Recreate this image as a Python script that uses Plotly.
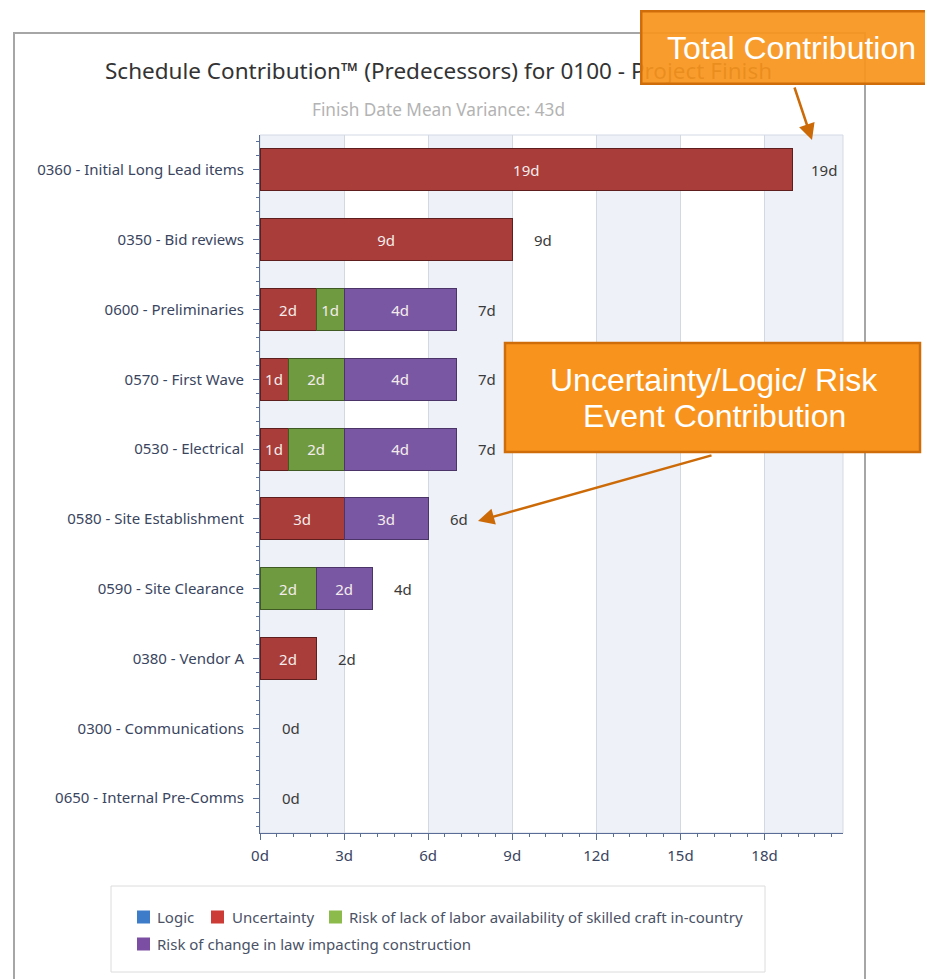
import plotly.graph_objects as go

# ---------------- data ----------------
categories = [
    "0360 - Initial Long Lead items",
    "0350 - Bid reviews",
    "0600 - Preliminaries",
    "0570 - First Wave",
    "0530 - Electrical",
    "0580 - Site Establishment",
    "0590 - Site Clearance",
    "0380 - Vendor A",
    "0300 - Communications",
    "0650 - Internal Pre-Comms",
]
logic = [0, 0, 0, 0, 0, 0, 0, 0, 0, 0]
uncertainty = [19, 9, 2, 1, 1, 3, 0, 2, 0, 0]
labor_risk = [0, 0, 1, 2, 2, 0, 2, 0, 0, 0]
law_risk = [0, 0, 4, 4, 4, 3, 2, 0, 0, 0]
series_names = [
    "Logic",
    "Uncertainty",
    "Risk of lack of labor availability of skilled craft in-country",
    "Risk of change in law impacting construction",
]
x_tick_values = [0, 3, 6, 9, 12, 15, 18]
x_tick_labels = ["0d", "3d", "6d", "9d", "12d", "15d", "18d"]
title_text = "Schedule Contribution™ (Predecessors) for 0100 - Project Finish"
subtitle_text = "Finish Date Mean Variance: 43d"

# ---------------- styling ----------------
PAGE_W, PAGE_H = 933, 979
OFF = 8  # default page body margin
W, H = PAGE_W - OFF, PAGE_H - OFF
L, R, T, B = 260, 843, 135, 833  # plot area in page pixels
X_MAX = 20.8
FONT = "Noto Sans"
FS = 15
bar_colors = ["#3d7cc9", "#a83d39", "#6f9a40", "#7a57a3"]
legend_colors = ["#3d7cc9", "#cc3b35", "#8cbb4c", "#7b4ea3"]
edge_colors = ["#2a4f80", "#5e1e1e", "#3f5a22", "#4a3468"]


def px(xp):
    return (xp - L) / (R - L)


def py(yp):
    return (B - yp) / (B - T)


ypos = list(range(len(categories)))
series = [logic, uncertainty, labor_risk, law_risk]
totals = [sum(v) for v in zip(*series)]

fig = go.Figure()
for name, vals, col, edge in zip(series_names, series, bar_colors, edge_colors):
    fig.add_trace(go.Bar(
        y=ypos, x=[v if v > 0 else None for v in vals], name=name, orientation="h",
        width=0.6,
        marker=dict(color=col, line=dict(color=edge, width=1)),
        text=[f"{v}d" if v > 0 else "" for v in vals],
        textposition="inside", insidetextanchor="middle",
        textangle=0, constraintext="none",
        textfont=dict(family=FONT, size=FS, color="#f4ecec"),
        showlegend=False, hoverinfo="x+name",
    ))

shapes = []
# alternating vertical bands
for x0 in range(0, 21, 6):
    shapes.append(dict(type="rect", xref="x", yref="paper", x0=x0, x1=min(x0 + 3, X_MAX),
                       y0=0, y1=1, fillcolor="#eef1f7", line=dict(width=0), layer="below"))
# plot frame (top/right faint)
shapes.append(dict(type="rect", xref="paper", yref="paper", x0=0, x1=1, y0=0, y1=1,
                   line=dict(color="#d3d9e4", width=1), layer="below"))
# outer frame
shapes.append(dict(type="rect", xref="paper", yref="paper", x0=px(14), x1=px(865),
                   y0=py(995), y1=py(33), line=dict(color="#a6a6a6", width=2)))
# legend box
shapes.append(dict(type="rect", xref="paper", yref="paper", x0=px(111), x1=px(765),
                   y0=py(972), y1=py(886), line=dict(color="#dcdcdc", width=1),
                   fillcolor="white"))
# second callout box (opaque)
shapes.append(dict(type="rect", xref="paper", yref="paper", x0=px(505), x1=px(920),
                   y0=py(452), y1=py(343), fillcolor="#f8941d",
                   line=dict(color="#cf6d0a", width=2.5), layer="above"))

annotations = []
# title & subtitle
annotations.append(dict(xref="paper", yref="paper", x=px(438), y=py(70), text=title_text,
                        showarrow=False, font=dict(family=FONT, size=22.5, color="#333333"),
                        xanchor="center", yanchor="middle"))
annotations.append(dict(xref="paper", yref="paper", x=px(438), y=py(110), text=subtitle_text,
                        showarrow=False, font=dict(family=FONT, size=17.2, color="#b3b3b3"),
                        xanchor="center", yanchor="middle"))
# total labels
for yi, tot in zip(ypos, totals):
    annotations.append(dict(xref="x", yref="y", x=tot, y=yi, text=f"{tot}d", xshift=31,
                            showarrow=False, xanchor="center",
                            font=dict(family=FONT, size=FS, color="#3a3a3a")))

# legend (manual)
legend_items = [
    (137, 917, 155),
    (211, 917, 230),
    (329, 917, 347),
    (137, 944, 155),
]
for (sx, sy, tx), name, col in zip(legend_items, series_names, legend_colors):
    shapes.append(dict(type="rect", xref="paper", yref="paper", x0=px(sx), x1=px(sx + 13),
                       y0=py(sy + 6.5), y1=py(sy - 6.5), fillcolor=col, line=dict(width=0)))
    annotations.append(dict(xref="paper", yref="paper", x=px(tx), y=py(sy), text=name,
                            showarrow=False, xanchor="left", yanchor="middle",
                            font=dict(family=FONT, size=FS, color="#4a5266")))

# callout arrows
ARROW = "#cc6a08"
annotations.append(dict(xref="paper", yref="paper", x=px(812), y=py(140), text="",
                        showarrow=True, ax=794 - 812, ay=86 - 140, arrowcolor=ARROW,
                        arrowwidth=2.5, arrowhead=2, arrowsize=1.3))
annotations.append(dict(xref="paper", yref="paper", x=px(478), y=py(521), text="",
                        showarrow=True, ax=713 - 478, ay=455 - 521, arrowcolor=ARROW,
                        arrowwidth=2.5, arrowhead=2, arrowsize=1.3))
# callout texts
annotations.append(dict(xref="paper", yref="paper", x=px(791), y=py(47),
                        text="Total Contribution", showarrow=False,
                        xanchor="center", yanchor="middle", width=298, height=70,
                        bgcolor="rgba(248,148,29,0.93)", bordercolor="#cf6d0a",
                        borderwidth=2.5, borderpad=0, align="center", valign="middle",
                        font=dict(family="Liberation Sans", size=32, color="white")))
annotations.append(dict(xref="paper", yref="paper", x=px(714), y=py(380),
                        text="Uncertainty/Logic/ Risk", showarrow=False,
                        xanchor="center", yanchor="middle",
                        font=dict(family="Liberation Sans", size=32, color="white")))
annotations.append(dict(xref="paper", yref="paper", x=px(714), y=py(416),
                        text="Event Contribution", showarrow=False,
                        xanchor="center", yanchor="middle",
                        font=dict(family="Liberation Sans", size=32, color="white")))

fig.update_layout(
    width=W, height=H,
    margin=dict(l=L - OFF, r=W - (R - OFF), t=T - OFF, b=H - (B - OFF), autoexpand=False),
    barmode="stack",
    paper_bgcolor="white", plot_bgcolor="white",
    shapes=shapes, annotations=annotations,
    showlegend=False,
    font=dict(family=FONT, size=FS, color="#3a4560"),
    xaxis=dict(
        range=[0, X_MAX], tickvals=x_tick_values, ticktext=x_tick_labels,
        showgrid=True, gridcolor="#d3d9e4", gridwidth=1, zeroline=False,
        showline=True, linecolor="#5a6d96", linewidth=1,
        ticks="outside", ticklen=6, tickcolor="#5a6d96", ticklabelstandoff=3,
        minor=dict(tick0=0, dtick=0.6, ticks="outside", ticklen=3, tickcolor="#5a6d96",
                   showgrid=False),
        tickfont=dict(family=FONT, size=FS, color="#3a4560"), layer="above traces",
    ),
    yaxis=dict(
        range=[len(categories) - 0.5, -0.5], tickvals=ypos, ticktext=categories,
        showgrid=False, zeroline=False,
        showline=True, linecolor="#5a6d96", linewidth=1,
        ticks="outside", ticklen=6, tickcolor="#5a6d96", ticklabelstandoff=6,
        minor=dict(tick0=0, dtick=0.2, ticks="outside", ticklen=3, tickcolor="#5a6d96",
                   showgrid=False),
        tickfont=dict(family=FONT, size=FS, color="#3a4560"),
    ),
)

fig.write_html("out.html")
